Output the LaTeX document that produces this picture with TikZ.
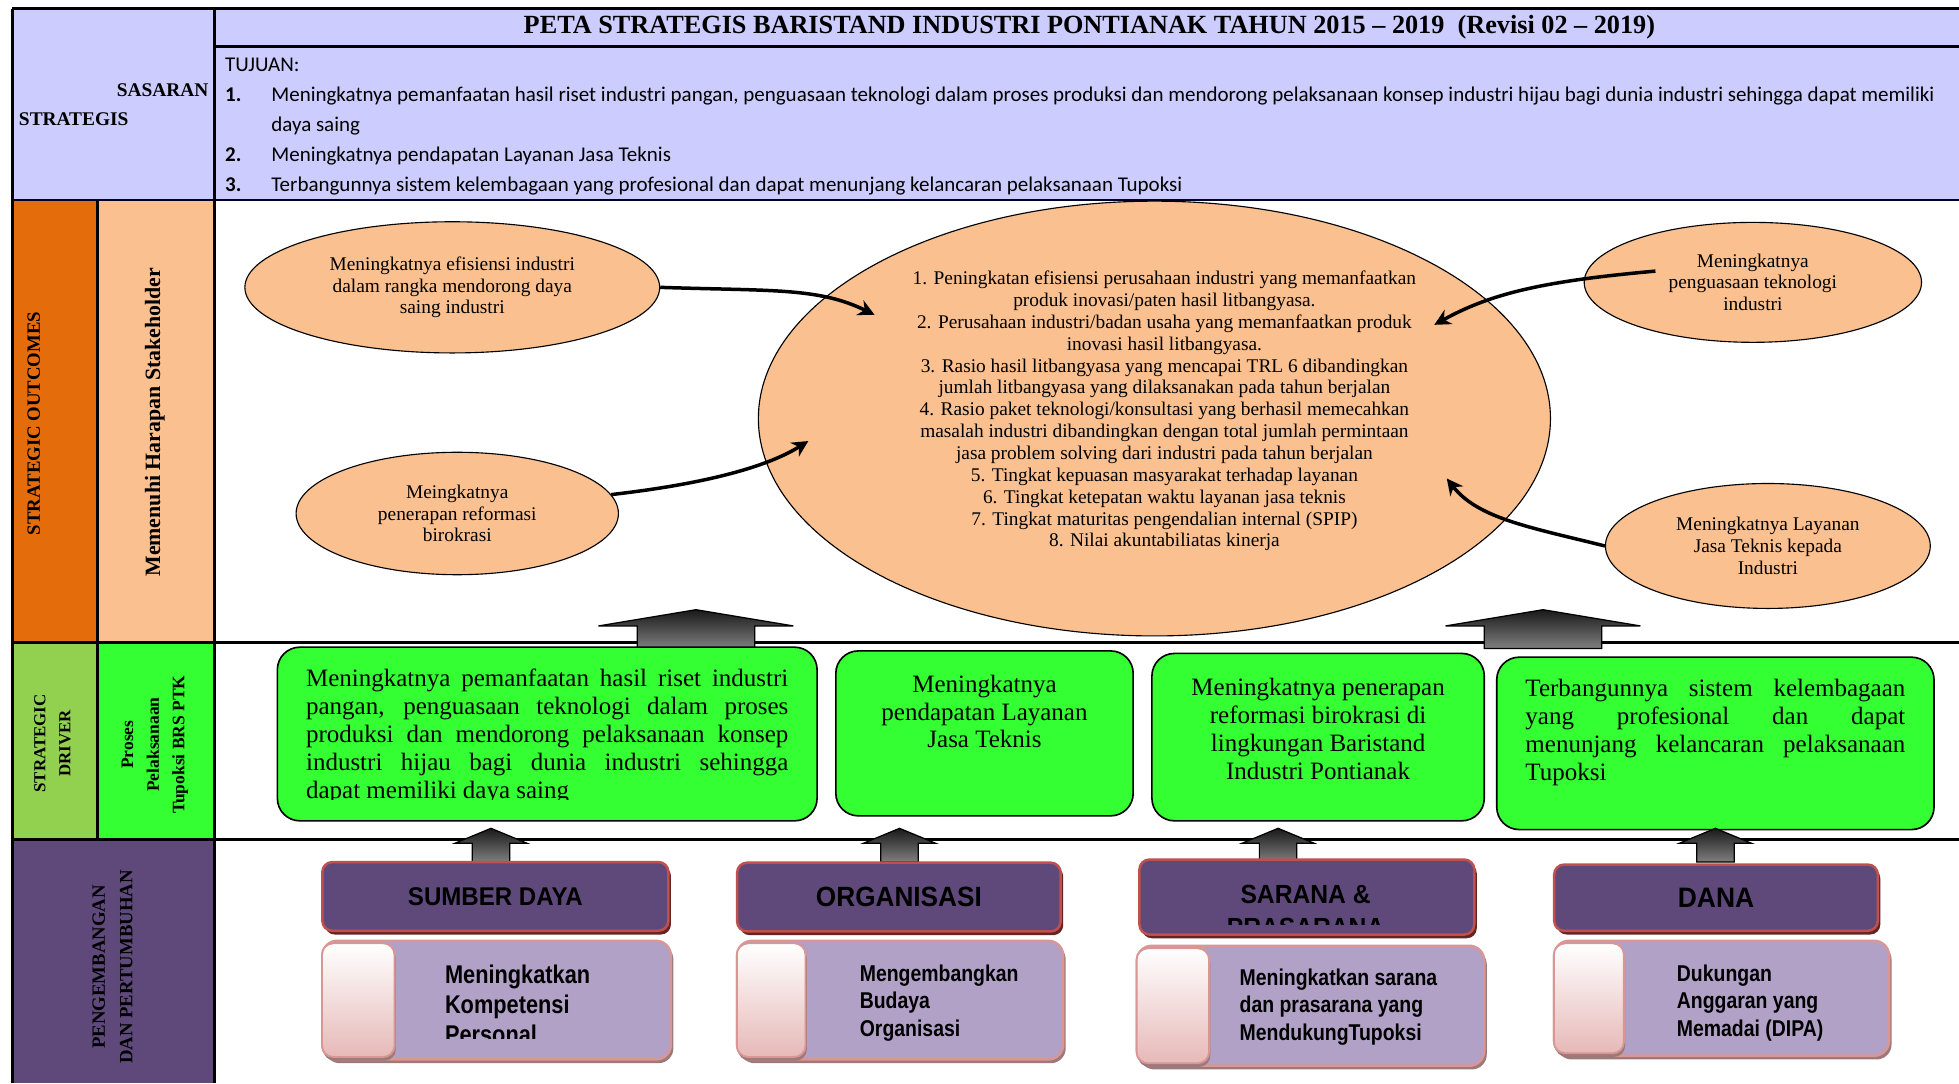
\documentclass[tikz,border=0pt]{standalone}
\usepackage{fontspec}
\setmainfont{Liberation Serif}
\newfontfamily\calibri{Carlito}
\newfontfamily\arial[FakeStretch=0.94]{Liberation Sans}
\newfontfamily\arialn[FakeStretch=0.85]{Liberation Sans}
\usetikzlibrary{positioning, shapes.geometric, arrows.meta, shadows}

\definecolor{headBlue}{HTML}{CCCCFF}
\definecolor{outOrange}{HTML}{E46C0A}
\definecolor{outPeach}{HTML}{FAC090}
\definecolor{drvGreen}{HTML}{92D050}
\definecolor{drvLime}{HTML}{33FF33}
\definecolor{devPurple}{HTML}{5F497A}
\definecolor{boxLilac}{HTML}{B2A1C7}
\definecolor{boxRed}{HTML}{C0504D}
\definecolor{boxRose}{HTML}{D99694}
\definecolor{tabPink}{HTML}{E6B9B8}
\definecolor{shadowRed}{HTML}{632523}
\definecolor{shadowRose}{HTML}{9C7A7A}

\hyphenpenalty=10000
\exhyphenpenalty=10000

\begin{document}
\begin{tikzpicture}[x=1pt, y=-1pt,
    rule/.style={line width=2.4pt},
    goal/.style={ellipse, draw, fill=outPeach, line width=0.9pt, inner sep=0pt, align=center,
        font=\fontsize{15.5}{17.5}\selectfont},
    push/.style={-{Stealth[length=13pt, width=13pt]}, line width=2.8pt},
    drv/.style={draw, fill=drvLime, rounded corners=18pt, line width=1.3pt, inner sep=0pt},
    drvtxt/.style={inner sep=0pt, font=\fontsize{20}{22.3}\selectfont},
    res/.style={draw=boxRed, fill=devPurple, rounded corners=8pt, line width=2pt, inner sep=0pt,
        drop shadow={fill=shadowRed, opacity=1, shadow xshift=2pt, shadow yshift=-3pt}},
    act/.style={draw=boxRose, fill=boxLilac, rounded corners=12pt, line width=2pt, inner sep=0pt,
        drop shadow={fill=shadowRose, opacity=1, shadow xshift=2pt, shadow yshift=-3pt}},
    tabbox/.style={draw=boxRose, line width=1.5pt, top color=white, bottom color=tabPink,
        rounded corners=9pt, inner sep=0pt, anchor=west,
        drop shadow={fill=shadowRose, opacity=1, shadow xshift=1pt, shadow yshift=-3pt}},
    acttxt/.style={inner sep=0pt, anchor=north west, align=left,
        font=\arialn\bfseries\fontsize{18.3}{22}\selectfont},
    blk/.style={draw=black, line width=1pt, top color=black!90, bottom color=black!50},
    tuj/.style={inner sep=0pt, anchor=base west, font=\calibri\fontsize{16.8}{24}\selectfont},
    sidelbl/.style={rotate=90, align=center, inner sep=0pt}
]
\useasboundingbox (0,0) rectangle (1568,867);
\fill[white] (0,0) rectangle (1568,867);

% bands
\fill[headBlue] (10,7) rectangle (1568,160);
\fill[outOrange] (10,160) rectangle (78,514);
\fill[outPeach] (78,160) rectangle (172,514);
\fill[drvGreen] (10,514) rectangle (78,672);
\fill[drvLime] (78,514) rectangle (172,672);
\fill[devPurple] (10,672) rectangle (172,867);

\draw[rule] (10,7) -- (1568,7);
\draw[rule] (172,37) -- (1568,37);
\draw[line width=1.6pt, draw=black!85!blue] (10,160) -- (1568,160);
\draw[rule] (10,514) -- (1568,514);
\draw[rule] (10,672) -- (1568,672);
\draw[rule] (10,7) -- (10,867);
\draw[rule] (172,7) -- (172,867);
\draw[line width=2pt] (78,160) -- (78,672);

% header
\node[font=\bfseries\fontsize{21}{24}\selectfont] (title) at (872,22)
    {PETA STRATEGIS BARISTAND INDUSTRI PONTIANAK TAHUN 2015 – 2019\ \ (Revisi 02 – 2019)};
\node[anchor=east, inner sep=0pt, font=\bfseries\fontsize{15.5}{18}\selectfont] (sas_a) at (167,72) {SASARAN};
\node[anchor=west, inner sep=0pt, font=\bfseries\fontsize{15.5}{18}\selectfont] (sas_b) at (15,95) {STRATEGIS};

\node[tuj] (tuj) at (180,57) {TUJUAN:};
\node[tuj] (n_1) at (180,81) {\bfseries 1.};
\node[tuj] (s_1) at (217,81) {Meningkatnya pemanfaatan hasil riset industri pangan, penguasaan teknologi dalam proses produksi dan mendorong pelaksanaan konsep industri hijau bagi dunia industri sehingga dapat memiliki};
\node[tuj] (s_1b) at (217,105) {daya saing};
\node[tuj] (n_2) at (180,129) {\bfseries 2.};
\node[tuj] (s_2) at (217,129) {Meningkatnya pendapatan Layanan Jasa Teknis};
\node[tuj] (n_3) at (180,153) {\bfseries 3.};
\node[tuj] (s_3) at (217,153) {Terbangunnya sistem kelembagaan yang profesional dan dapat menunjang kelancaran pelaksanaan Tupoksi};

% side labels
\node[sidelbl, font=\bfseries\fontsize{15}{18}\selectfont] (so_lbl) at (27,339) {STRATEGIC OUTCOMES};
\node[sidelbl, font=\bfseries\fontsize{17.5}{20}\selectfont] (sh_lbl) at (124,338) {Memenuhi Harapan Stakeholder};
\node[sidelbl, font=\bfseries\fontsize{13.5}{20}\selectfont] (sd_lbl) at (42,595) {STRATEGIC\\DRIVER};
\node[sidelbl, font=\bfseries\fontsize{14}{20.5}\selectfont] (pp_lbl) at (124,596) {Proses\\Pelaksanaan\\Tupoksi BRS PTK};
\node[sidelbl, font=\bfseries\fontsize{15}{22}\selectfont] (pg_lbl) at (90,774) {PENGEMBANGAN\\DAN PERTUMBUHAN};

% outcomes
\node[goal, minimum width=332pt, minimum height=105pt] (e_1) at (362,230)
    {Meningkatnya efisiensi industri\\dalam rangka mendorong daya\\saing industri};
\node[goal, minimum width=258pt, minimum height=98pt] (e_2) at (366,411)
    {Meingkatnya\\penerapan reformasi\\birokrasi};
\node[goal, minimum width=270pt, minimum height=96pt] (e_3) at (1403,226)
    {Meningkatnya\\penguasaan teknologi\\industri};
\node[goal, minimum width=260pt, minimum height=100pt] (e_4) at (1415,437)
    {Meningkatnya Layanan\\Jasa Teknis kepada\\Industri};
\node[goal, minimum width=634pt, minimum height=348pt] (kpi) at (924,335) {};
\node[align=center, inner sep=0pt, font=\fontsize{15.5}{17.5}\selectfont] (kpi_txt) at (932,329)
    {1. Peningkatan efisiensi perusahaan industri yang memanfaatkan\\
     produk inovasi/paten hasil litbangyasa.\\
     2. Perusahaan industri/badan usaha yang memanfaatkan produk\\
     inovasi hasil litbangyasa.\\
     3. Rasio hasil litbangyasa yang mencapai TRL 6 dibandingkan\\
     jumlah litbangyasa yang dilaksanakan pada tahun berjalan\\
     4. Rasio paket teknologi/konsultasi yang berhasil memecahkan\\
     masalah industri dibandingkan dengan total jumlah permintaan\\
     jasa problem solving dari industri pada tahun berjalan\\
     5. Tingkat kepuasan masyarakat terhadap layanan\\
     6. Tingkat ketepatan waktu layanan jasa teknis\\
     7. Tingkat maturitas pengendalian internal (SPIP)\\
     8. Nilai akuntabiliatas kinerja};

\coordinate (t_1) at (700,252);
\coordinate (t_2) at (647,353);
\coordinate (t_3) at (1148,260);
\coordinate (t_4) at (1158,383);
\coordinate (f_3) at (1325,217);

\draw[push] (e_1.east) .. controls +(90,3) and +(-45,-22) .. (t_1);
\draw[push] (e_2.7) .. controls +(70,-8) and +(-35,22) .. (t_2);
\draw[push] (f_3) .. controls +(-90,8) and +(45,-25) .. (t_3);
\draw[push] (e_4.west) .. controls +(-60,-15) and +(25,32) .. (t_4);

% block arrows into outcomes
\foreach \cx in {557,1235}
  \draw[blk] (\cx,488) -- (\cx+78,501) -- (\cx+47,501) -- (\cx+47,519)
    -- (\cx-47,519) -- (\cx-47,501) -- (\cx-78,501) -- cycle;

% drivers
\node[drv, minimum width=432pt, minimum height=139pt] (g_1) at (438,587.5) {};
\node[drv, minimum width=238pt, minimum height=132pt] (g_2) at (788,587) {};
\node[drv, minimum width=266pt, minimum height=134pt] (g_3) at (1055,590) {};
\node[drv, minimum width=350pt, minimum height=138pt] (g_4) at (1373,595) {};

\begin{scope}
  \clip (222,518) rectangle (654,640);
  \node[drvtxt, text width=386pt, align=justify] (g_1t) at (438,589.5)
    {Meningkatnya pemanfaatan hasil riset industri\linebreak
     pangan, penguasaan teknologi dalam proses\linebreak
     produksi dan mendorong pelaksanaan konsep\linebreak
     industri hijau bagi dunia industri sehingga\linebreak
     dapat memiliki daya saing};
\end{scope}
\node[drvtxt, align=center] (g_2t) at (788,569.5) {Meningkatnya\\pendapatan Layanan\\Jasa Teknis};
\node[drvtxt, align=center] (g_3t) at (1055,583.5)
    {Meningkatnya penerapan\\reformasi birokrasi di\\lingkungan Baristand\\Industri Pontianak};
\node[drvtxt, text width=304pt, align=justify] (g_4t) at (1373,586.5)
    {Terbangunnya sistem kelembagaan\linebreak
     yang profesional dan dapat\linebreak
     menunjang kelancaran pelaksanaan\linebreak
     Tupoksi};

% block arrows into drivers
\foreach \cx in {393,720,1023,1373}
  \draw[blk] (\cx,663) -- (\cx+29,675) -- (\cx+15,675) -- (\cx+15,690)
    -- (\cx-15,690) -- (\cx-15,675) -- (\cx-29,675) -- cycle;

% resources
\node[res, minimum width=277pt, minimum height=55pt, font=\arial\bfseries\fontsize{20.5}{24}\selectfont]
    (p_1) at (396.5,717.5) {SUMBER DAYA};
\node[res, minimum width=259pt, minimum height=55pt, font=\arial\bfseries\fontsize{22.3}{26}\selectfont]
    (p_2) at (719.5,718) {ORGANISASI};
\node[res, minimum width=268pt, minimum height=60pt] (p_3) at (1046,718) {};
\node[res, minimum width=259pt, minimum height=53pt, font=\arial\bfseries\fontsize{22.5}{26}\selectfont]
    (p_4) at (1373.5,718.5) {DANA};
\begin{scope}
  \clip (912,688) rectangle (1180,740);
  \node[inner sep=0pt, anchor=north, align=center, font=\arial\bfseries\fontsize{21}{26}\selectfont]
    (p_3t) at (1045,708.5) {SARANA \&\\PRASARANA};
\end{scope}

\node[act, minimum width=279pt, minimum height=95pt] (l_1) at (397.5,800.5) {};
\node[act, minimum width=261pt, minimum height=95pt] (l_2) at (720.5,800.5) {};
\node[act, minimum width=278pt, minimum height=96pt] (l_3) at (1049,805) {};
\node[act, minimum width=268pt, minimum height=92pt] (l_4) at (1378,799) {};

\node[tabbox, minimum width=58pt, minimum height=91pt] (tb_1) at (l_1.west) {};
\node[tabbox, minimum width=55pt, minimum height=91pt] (tb_2) at (l_2.west) {};
\node[tabbox, minimum width=58pt, minimum height=92pt] (tb_3) at (l_3.west) {};
\node[tabbox, minimum width=56pt, minimum height=88pt] (tb_4) at (l_4.west) {};

\begin{scope}
  \clip (330,760) rectangle (530,831);
  \node[acttxt, font=\arialn\bfseries\fontsize{20.5}{24}\selectfont] (l_1t) at (356,772)
    {Meningkatkan\\Kompetensi\\Personal};
\end{scope}
\node[acttxt] (l_2t) at (688,772) {Mengembangkan\\Budaya\\Organisasi};
\node[acttxt] (l_3t) at (992,775) {Meningkatkan sarana\\dan prasarana yang\\MendukungTupoksi};
\node[acttxt] (l_4t) at (1342,772) {Dukungan\\Anggaran yang\\Memadai (DIPA)};

\end{tikzpicture}
\end{document}
